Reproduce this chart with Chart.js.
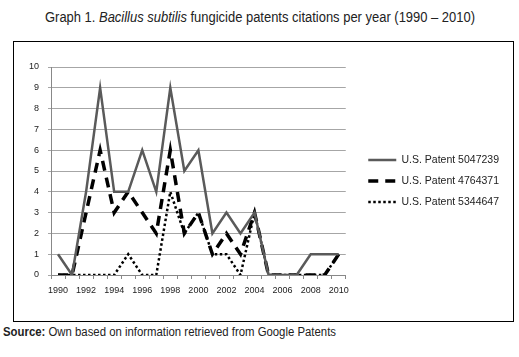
<!DOCTYPE html>
<html><head><meta charset="utf-8">
<script src="https://cdn.jsdelivr.net/npm/chart.js@4"></script>
<style>
html,body{margin:0;padding:0;background:#fff;width:519px;height:357px;overflow:hidden}
.txt{position:absolute;white-space:nowrap;font-family:"Liberation Sans",Arial,sans-serif;color:#222;transform-origin:0 0}
#title{left:45px;top:9px;line-height:17px;font-size:14px}
#source{left:3px;top:325px;line-height:15px;font-size:12px}
#box{position:absolute;left:13px;top:41px;width:501px;height:281px;box-sizing:border-box;border:1px solid #000}
#wrap{position:absolute;left:14px;top:42px;width:498px;height:279px}
</style>
</head><body>
<span id="title" class="txt">Graph 1. <i>Bacillus subtilis</i> fungicide patents citations per year (1990 – 2010)</span>
<div id="box"></div>
<div id="wrap"><canvas id="c" width="498" height="279"></canvas></div>
<span id="source" class="txt"><b>Source:</b> Own based on information retrieved from Google Patents</span>
<script>
const years = ['1990','1991','1992','1993','1994','1995','1996','1997','1998','1999','2000','2001','2002','2003','2004','2005','2006','2007','2008','2009','2010'];
const patent5047239 = [1,0,4,9,4,4,6,4,9,5,6,2,3,2,3,0,0,0,1,1,1];
const patent4764371 = [0,0,3,6,3,4,3,2,6,2,3,1,2,1,3,0,0,0,0,0,1];
const patent5344647 = [0,0,0,0,0,1,0,0,4,2,3,1,1,0,3,0,0,0,0,0,1];
const seriesNames = ['U.S. Patent 5047239','U.S. Patent 4764371','U.S. Patent 5344647'];
const yMin = 0, yMax = 10, yStep = 1;

function fitWidth(id, w) {
  const el = document.getElementById(id);
  const r = el.getBoundingClientRect().width;
  el.style.transform = 'scaleX(' + (w / r) + ')';
}
fitWidth('title', 430);
fitWidth('source', 333);

const FONT = '"Liberation Sans", Arial, sans-serif';
new Chart(document.getElementById('c'), {
  type: 'line',
  data: {
    labels: years,
    datasets: [
      {label: seriesNames[0], data: patent5047239, borderColor: '#5a5a5a', backgroundColor: '#5a5a5a', borderWidth: 2.5, pointRadius: 0, tension: 0},
      {label: seriesNames[1], data: patent4764371, borderColor: '#000', backgroundColor: '#000', borderWidth: 3.5, borderDash: [10, 7], pointRadius: 0, tension: 0},
      {label: seriesNames[2], data: patent5344647, borderColor: '#000', backgroundColor: '#000', borderWidth: 2.5, borderDash: [2.5, 2.5], pointRadius: 0, tension: 0}
    ]
  },
  options: {
    responsive: false,
    animation: false,
    layout: {padding: {top: 25, left: 0, right: 3, bottom: 26}},
    plugins: {
      tooltip: {enabled: false},
      legend: {
        position: 'right',
        maxWidth: 250,
        labels: {
          usePointStyle: true,
          pointStyle: 'line',
          pointStyleWidth: 28,
          boxHeight: 11,
          padding: 10.5,
          color: '#222',
          font: {family: FONT, size: 10.5},
          generateLabels: chart => chart.data.datasets.map((ds, i) => ({
            text: ds.label,
            fillStyle: ds.borderColor,
            strokeStyle: ds.borderColor,
            lineWidth: ds.borderWidth,
            lineDash: ds.borderDash || [],
            lineCap: 'butt',
            pointStyle: 'line',
            fontColor: '#222',
            hidden: false,
            datasetIndex: i
          }))
        }
      }
    },
    scales: {
      x: {
        offset: true,
        grid: {offset: true, drawOnChartArea: false, drawTicks: true, tickLength: 4, color: '#888'},
        border: {color: '#888', width: 1},
        ticks: {autoSkip: false, maxRotation: 0, padding: 6, color: '#222', font: {family: FONT, size: 9},
          callback: function(v, i) { return i % 2 === 0 ? this.getLabelForValue(v) : ''; }},
        afterFit: s => { s.height = 20; }
      },
      y: {
        min: yMin, max: yMax,
        grid: {color: '#a6a6a6', tickLength: 3, lineWidth: 1},
        border: {color: '#888', width: 1},
        ticks: {stepSize: yStep, padding: 9, color: '#222', font: {family: FONT, size: 9}},
        afterFit: s => { s.width = 37; }
      },
      y2: {
        position: 'right',
        display: true,
        grid: {display: false, drawTicks: false},
        border: {display: false},
        ticks: {display: false},
        afterFit: s => { s.width = 12; }
      }
    }
  }
});
</script>
</body></html>
